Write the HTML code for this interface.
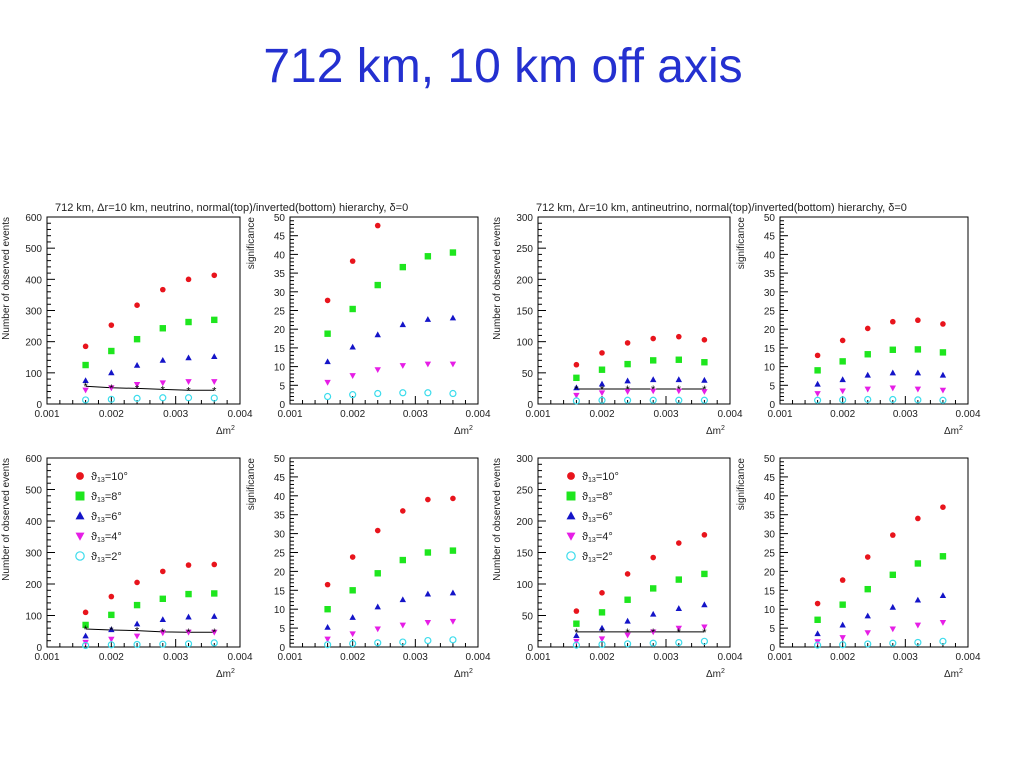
<!DOCTYPE html>
<html><head><meta charset="utf-8"><style>
body{margin:0;background:#fff;}
svg text{font-family:"Liberation Sans",sans-serif;}
</style></head><body>
<svg id="chart" width="1024" height="768" xmlns="http://www.w3.org/2000/svg">
<text x="503" y="82" text-anchor="middle" font-size="48" fill="#2430d0">712 km, 10 km off axis</text>
<text x="55" y="211" font-size="11" fill="#222">712 km, Δr=10 km, neutrino, normal(top)/inverted(bottom) hierarchy, δ=0</text>
<text x="536" y="211" font-size="11" fill="#222">712 km, Δr=10 km, antineutrino, normal(top)/inverted(bottom) hierarchy, δ=0</text>
</svg>
<script>
const xValues=[0.0016,0.002,0.0024,0.0028,0.0032,0.0036];
const xTickLabels=["0.001","0.002","0.003","0.004"];
const seriesNames=["red","green","blue","magenta","cyan"];
const legendLabels=["10°","8°","6°","4°","2°"];
const p1Red=[185,253,317,367,400,413], p1Green=[125,170,208,243,263,270], p1Blue=[75,100,124,140,148,152], p1Mag=[45,52,63,68,72,72], p1Cyan=[13,15,18,20,20,19], p1Bkg=[57,52,50,47,44,44];
const p2Red=[27.7,38.2,47.7], p2Green=[18.8,25.4,31.8,36.6,39.5,40.5], p2Blue=[11.3,15.2,18.5,21.2,22.6,23], p2Mag=[5.8,7.6,9.2,10.3,10.7,10.7], p2Cyan=[2.0,2.5,2.8,3.0,3.0,2.8];
const p3Red=[63,82,98,105,108,103], p3Green=[42,55,64,70,71,67], p3Blue=[26,32,37,39,39,38], p3Mag=[14,18,20,21,21,20], p3Cyan=[5,6,6,6,6,6], p3Bkg=[24,24,24,24,24,24];
const p4Red=[13,17,20.2,22,22.4,21.4], p4Green=[9,11.4,13.3,14.5,14.6,13.8], p4Blue=[5.3,6.5,7.7,8.3,8.3,7.7], p4Mag=[2.8,3.5,4,4.3,4,3.7], p4Cyan=[1,1.1,1.2,1.2,1.1,1.0];
const p5Red=[110,160,205,240,260,262], p5Green=[70,102,133,153,168,170], p5Blue=[35,55,73,87,95,97], p5Mag=[15,25,35,45,47,47], p5Cyan=[5,7,8,9,10,13], p5Bkg=[57,54,52,48,47,47];
const p6Red=[16.5,23.8,30.8,36,39,39.3], p6Green=[10,15,19.5,23,25,25.5], p6Blue=[5.2,7.8,10.6,12.5,14,14.3], p6Mag=[2.1,3.5,4.8,5.8,6.5,6.8], p6Cyan=[0.6,0.9,1.1,1.3,1.7,1.9];
const p7Red=[57,86,116,142,165,178], p7Green=[37,55,75,93,107,116], p7Blue=[18,30,41,52,61,67], p7Mag=[9,13,19,24,30,32], p7Cyan=[3,4,5,6,7,9], p7Bkg=[24,24,24,24,24,24];
const p8Red=[11.5,17.7,23.8,29.6,34,37], p8Green=[7.2,11.2,15.3,19.1,22.1,24], p8Blue=[3.5,5.8,8.2,10.5,12.4,13.6], p8Mag=[1.4,2.5,3.8,4.8,5.8,6.5], p8Cyan=[0.5,0.6,0.8,1.0,1.2,1.5];
const ticks600=[0,100,200,300,400,500,600], ticks300=[0,50,100,150,200,250,300], ticks50=[0,5,10,15,20,25,30,35,40,45,50];

const svg=document.getElementById('chart');
const NS="http://www.w3.org/2000/svg";
function mk(tag,attrs,parent){const e=document.createElementNS(NS,tag);for(const k in attrs)e.setAttribute(k,attrs[k]);(parent||svg).appendChild(e);return e;}
const colors={red:"#e8141c",green:"#1ee61e",blue:"#1414c8",magenta:"#e61ee6",cyan:"#3cdcec"};
function marker(g,type,cx,cy,s){
  let e;
  if(type==="red"){e=mk('circle',{cx:cx,cy:cy,r:2.8*s,fill:colors.red},g);}
  else if(type==="green"){e=mk('rect',{x:cx-3.2*s,y:cy-3.2*s,width:6.4*s,height:6.4*s,fill:colors.green},g);}
  else if(type==="blue"){e=mk('polygon',{points:`${cx},${cy-3.4*s} ${cx-3.2*s},${cy+2.4*s} ${cx+3.2*s},${cy+2.4*s}`,fill:colors.blue},g);}
  else if(type==="magenta"){e=mk('polygon',{points:`${cx},${cy+3.4*s} ${cx-3.2*s},${cy-2.4*s} ${cx+3.2*s},${cy-2.4*s}`,fill:colors.magenta},g);}
  else {e=mk('circle',{cx:cx,cy:cy,r:3*s,fill:"none",stroke:colors.cyan,"stroke-width":1.2},g);}
  return e;
}
function panel(id,L,R,T,B,ymax,yticks,ytitle,series,bkg,legend){
  const g=mk('g',{});
  
  
  const xs=v=>L+(v-0.001)/0.003*(R-L);
  const ys=v=>B-v/ymax*(B-T);
  const fr=mk('rect',{x:L,y:T,width:R-L,height:B-T,fill:"none",stroke:"#000","stroke-width":1},g);
  
  
  for(let i=0;i<=15;i++){const v=0.001+i*0.0002,x=xs(v);const big=i%5===0;mk('line',{x1:x,y1:B,x2:x,y2:B-(big?8:4),stroke:"#000"},g);}
  xTickLabels.forEach(t=>{const tx=mk('text',{x:xs(parseFloat(t)),y:B+13,"font-size":10,"text-anchor":"middle",fill:"#222"},g);tx.textContent=t;
    
    });
  const step=yticks[1]-yticks[0];
  for(let i=0;i<(yticks.length-1)*5;i++){const v=i*step/5,y=ys(v);const big=i%5===0;mk('line',{x1:L,y1:y,x2:L+(big?8:4),y2:y,stroke:"#000"},g);}
  yticks.forEach(t=>{const tx=mk('text',{x:L-5,y:ys(t)+4,"font-size":10,"text-anchor":"end",fill:"#222"},g);tx.textContent=t;
    
    });
  const yt=mk('text',{x:0,y:0,"font-size":10,"text-anchor":"end",fill:"#222",transform:`translate(${L-(ymax===50?36:38)},${T}) rotate(-90)`},g);
  yt.textContent=ytitle;
  
  
  const xt=mk('text',{x:R-24,y:B+30,"font-size":10,fill:"#222"},g);
  xt.innerHTML='Δm<tspan dy="-4" font-size="7">2</tspan>';
  
  
  if(bkg){
    const pts=bkg.map((v,i)=>`${xs(xValues[i])},${ys(v)}`).join(' ');
    const pl=mk('polyline',{points:pts,fill:"none",stroke:"#000","stroke-width":1},g);
    
    
  }
  series.forEach((arr,si)=>{
    arr.forEach((v,i)=>{
      const m=marker(g,seriesNames[si],xs(xValues[i]),ys(v),1);
      
      
    });
  });
  if(bkg){
    bkg.forEach((v,i)=>{const x=xs(xValues[i]),y=ys(v);
      const st=mk('text',{x:x,y:y+4,"font-size":11,"text-anchor":"middle",fill:"#000"},g);st.textContent="*";
      
      });
  }
  if(legend){
    legendLabels.forEach((lab,i)=>{
      const y=T+18+i*20;
      const m=marker(g,seriesNames[i],L+33,y,1.4);
      
      
      const tx=mk('text',{x:L+44,y:y+4,"font-size":11,fill:"#222"},g);
      tx.innerHTML='ϑ<tspan font-size="7" dy="2">13</tspan><tspan dy="-2">='+lab+'</tspan>';
      
      
    });
  }
}
const tT=217,tB=404,bT=458,bB=647;
panel('panel-neutrino-normal-events',47,240,tT,tB,600,ticks600,'Number of observed events',[p1Red,p1Green,p1Blue,p1Mag,p1Cyan],p1Bkg,false);
panel('panel-neutrino-normal-significance',290,478,tT,tB,50,ticks50,'significance',[p2Red,p2Green,p2Blue,p2Mag,p2Cyan],null,false);
panel('panel-antineutrino-normal-events',538,730,tT,tB,300,ticks300,'Number of observed events',[p3Red,p3Green,p3Blue,p3Mag,p3Cyan],p3Bkg,false);
panel('panel-antineutrino-normal-significance',780,968,tT,tB,50,ticks50,'significance',[p4Red,p4Green,p4Blue,p4Mag,p4Cyan],null,false);
panel('panel-neutrino-inverted-events',47,240,bT,bB,600,ticks600,'Number of observed events',[p5Red,p5Green,p5Blue,p5Mag,p5Cyan],p5Bkg,true);
panel('panel-neutrino-inverted-significance',290,478,bT,bB,50,ticks50,'significance',[p6Red,p6Green,p6Blue,p6Mag,p6Cyan],null,false);
panel('panel-antineutrino-inverted-events',538,730,bT,bB,300,ticks300,'Number of observed events',[p7Red,p7Green,p7Blue,p7Mag,p7Cyan],p7Bkg,true);
panel('panel-antineutrino-inverted-significance',780,968,bT,bB,50,ticks50,'significance',[p8Red,p8Green,p8Blue,p8Mag,p8Cyan],null,false);
</script>
</body></html>
